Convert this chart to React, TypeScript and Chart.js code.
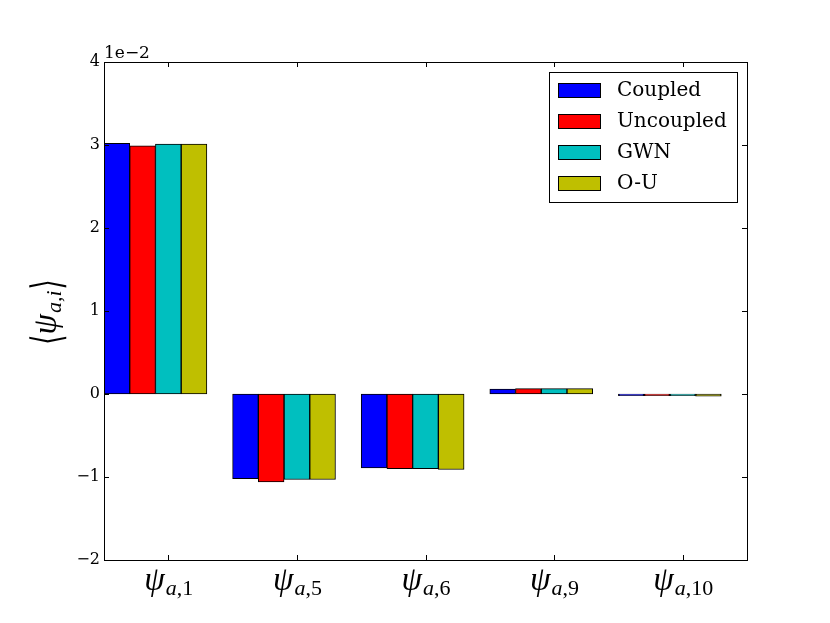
import React, { useEffect, useRef } from "react";
import { Chart, registerables } from "chart.js";

Chart.register(...registerables);

const categories = ["1", "5", "6", "9", "10"];
const seriesNames = ["Coupled", "Uncoupled", "GWN", "O-U"];
const seriesColors = ["#0000ff", "#ff0000", "#00bfbf", "#bfbf00"];
const coupled = [0.0302, -0.0102, -0.0089, 0.0006, -0.0002];
const uncoupled = [0.0299, -0.0106, -0.009, 0.00065, -0.0002];
const gwn = [0.0301, -0.0103, -0.009, 0.00065, -0.0002];
const ou = [0.0301, -0.0103, -0.0091, 0.00065, -0.00025];
const yTicks = [-0.02, -0.01, 0, 0.01, 0.02, 0.03, 0.04];

const SERIF = "'DejaVu Serif', 'Liberation Serif', serif";
const MATH = "'Liberation Serif', 'DejaVu Serif', serif";

const overlay = {
  id: "overlay",
  afterDatasetsDraw(chart: any) {
    const ctx = chart.ctx;
    const { left, right, top, bottom } = chart.chartArea;
    const xs = chart.scales.x;
    const ys = chart.scales.y;
    ctx.save();
    // frame
    ctx.strokeStyle = "#000";
    ctx.lineWidth = 1;
    ctx.strokeRect(Math.round(left) + 0.5, Math.round(top) + 0.5, Math.round(right - left), Math.round(bottom - top));
    // inward ticks
    const tl = 5;
    ctx.beginPath();
    yTicks.forEach((v) => {
      const y = Math.round(ys.getPixelForValue(v)) + 0.5;
      ctx.moveTo(left, y);
      ctx.lineTo(left + tl, y);
      ctx.moveTo(right, y);
      ctx.lineTo(right - tl, y);
    });
    categories.forEach((_, i) => {
      const x = Math.round(xs.getPixelForValue(i)) + 0.5;
      ctx.moveTo(x, bottom);
      ctx.lineTo(x, bottom - tl);
      ctx.moveTo(x, top);
      ctx.lineTo(x, top + tl);
    });
    ctx.stroke();

    // offset text
    ctx.fillStyle = "#000";
    ctx.font = `17px ${SERIF}`;
    ctx.textAlign = "left";
    ctx.textBaseline = "alphabetic";
    ctx.fillText("1e\u22122", left, top - 4);

    // x tick labels with subscripts
    categories.forEach((c, i) => {
      const x = xs.getPixelForValue(i);
      ctx.font = `italic 33px ${MATH}`;
      const w1 = ctx.measureText("\u03c8").width;
      ctx.font = `italic 22px ${MATH}`;
      const wa = ctx.measureText("a").width;
      ctx.font = `22px ${MATH}`;
      const wr = ctx.measureText("," + c).width;
      const x0 = x - (w1 + wa + wr) / 2;
      const base = bottom + 30;
      ctx.font = `italic 33px ${MATH}`;
      ctx.fillText("\u03c8", x0, base);
      ctx.font = `italic 22px ${MATH}`;
      ctx.fillText("a", x0 + w1 + 1, base + 5);
      ctx.font = `22px ${MATH}`;
      ctx.fillText("," + c, x0 + w1 + wa + 1, base + 5);
    });

    // y axis label
    ctx.save();
    ctx.translate(56, 312);
    ctx.rotate(-Math.PI / 2);
    const bf = `26px ${MATH}`;
    const bs = 1.6;
    ctx.font = bf;
    const b1 = ctx.measureText("\u27e8").width;
    const b2 = ctx.measureText("\u27e9").width;
    ctx.font = `italic 33px ${MATH}`;
    const p = ctx.measureText("\u03c8").width;
    ctx.font = `italic 22px ${MATH}`;
    const s = ctx.measureText("a,i").width;
    const total = b1 + p + s + b2 + 2;
    let sx = -total / 2;
    const drawBracket = (ch: string, x: number) => {
      ctx.save();
      ctx.translate(x, 0);
      ctx.scale(1, bs);
      ctx.font = bf;
      ctx.fillText(ch, 0, 3);
      ctx.restore();
    };
    drawBracket("\u27e8", sx);
    sx += b1;
    ctx.font = `italic 33px ${MATH}`;
    ctx.fillText("\u03c8", sx, 0);
    sx += p;
    ctx.font = `italic 22px ${MATH}`;
    ctx.fillText("a,i", sx + 1, 5);
    sx += s + 2;
    drawBracket("\u27e9", sx);
    ctx.restore();

    // legend
    const lx = 549, ly = 72, lw = 188, lh = 130;
    ctx.fillStyle = "#fff";
    ctx.fillRect(lx, ly, lw, lh);
    ctx.strokeStyle = "#000";
    ctx.lineWidth = 1;
    ctx.strokeRect(lx + 0.5, ly + 0.5, lw, lh);
    seriesNames.forEach((n, i) => {
      const cy = ly + 18 + i * 31;
      ctx.fillStyle = seriesColors[i];
      ctx.fillRect(558, cy - 7, 42, 14);
      ctx.strokeStyle = "#000";
      ctx.strokeRect(558.5, cy - 6.5, 42, 14);
      ctx.fillStyle = "#000";
      ctx.font = `20px ${SERIF}`;
      ctx.textBaseline = "middle";
      ctx.fillText(n, 617, cy + 1);
    });
    ctx.restore();
  },
};

export default function App() {
  const ref = useRef<HTMLCanvasElement | null>(null);
  useEffect(() => {
    if (!ref.current) return;
    const allSeries = [coupled, uncoupled, gwn, ou];
    const datasets: any[] = allSeries.map((d, i) => ({
      label: seriesNames[i],
      data: d,
      backgroundColor: seriesColors[i],
      borderColor: "#000",
      borderWidth: 1,
      borderSkipped: false,
    }));
    datasets.push({
      label: "",
      data: categories.map(() => null),
      backgroundColor: "rgba(0,0,0,0)",
      borderWidth: 0,
    });
    const chart = new Chart(ref.current, {
      type: "bar",
      data: { labels: categories, datasets },
      options: {
        animation: false,
        responsive: true,
        maintainAspectRatio: false,
        layout: { padding: { top: 62, right: 83, left: 0, bottom: 0 } },
        datasets: { bar: { categoryPercentage: 1, barPercentage: 1 } },
        plugins: { legend: { display: false }, tooltip: { enabled: false } },
        scales: {
          x: {
            grid: { display: false },
            border: { display: false },
            ticks: { display: false },
            afterFit: (s: any) => {
              s.height = 63;
            },
          },
          y: {
            min: -0.02,
            max: 0.04,
            grid: { display: false, drawTicks: false },
            border: { display: false },
            afterBuildTicks: (s: any) => {
              s.ticks = yTicks.map((v) => ({ value: v }));
            },
            ticks: {
              color: "#000",
              padding: 4,
              font: { family: SERIF, size: 16 },
              callback: (v: any) => {
                const n = Math.round(Number(v) * 100);
                return n < 0 ? "\u2212" + Math.abs(n) : String(n);
              },
            },
            afterFit: (s: any) => {
              s.width = 104;
            },
          },
        },
      },
      plugins: [overlay],
    });
    return () => chart.destroy();
  }, []);
  return (
    <div style={{ position: "absolute", left: 0, top: 0, width: 830, height: 623, background: "#fff" }}>
      <canvas ref={ref} />
    </div>
  );
}
